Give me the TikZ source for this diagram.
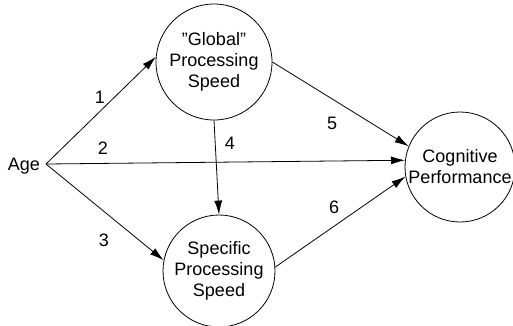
\documentclass[tikz,border=0pt]{standalone}
\usepackage{fontspec}
\setmainfont{Liberation Sans}[Ligatures=ResetAll]
\usetikzlibrary{arrows.meta}
\begin{document}
\begin{tikzpicture}[x=1pt,y=-1pt,
  txt/.style={font=\fontsize{18}{21}\selectfont, inner sep=0pt},
  factor/.style={circle, draw, line width=0.8pt, inner sep=0pt, align=center,
    font=\fontsize{18}{21}\selectfont},
  path/.style={draw, line width=0.8pt, -{Latex[length=14pt,width=8pt]}}]
\useasboundingbox (0,0) rectangle (513,325);
% latent factors
\node[factor, minimum size=116pt] (glob) at (214,62) {"Global"\\Processing\\Speed};
\node[factor, minimum size=112pt] (spec) at (219,271) {Specific\\Processing\\Speed};
\node[factor, minimum size=110pt] (cog) at (460,167) {Cognitive\\Performance};
% age
\node[txt, anchor=east] (age) at (40,166) {Age};
\coordinate (agept) at (46,164);
% paths
\draw[path] (agept) -- (glob.175);
\draw[path] (agept) -- (cog.173);
\draw[path] (agept) -- (spec.169);
\draw[path] (glob.south) -- (spec.north);
\draw[path] (glob.0) -- (cog.158);
\draw[path] (spec.4) -- (cog.190);
% path labels
\node[txt] (l1) at (100,97) {1};
\node[txt] (l2) at (103,148) {2};
\node[txt] (l3) at (104,240) {3};
\node[txt] (l4) at (230,143) {4};
\node[txt] (l5) at (332,123) {5};
\node[txt] (l6) at (334,207) {6};
\end{tikzpicture}
\end{document}
